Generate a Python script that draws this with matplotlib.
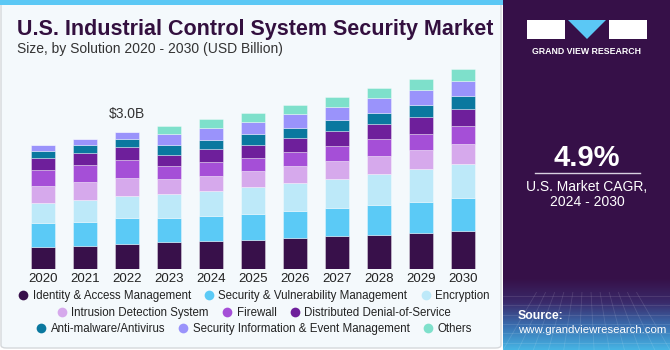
import numpy as np
import matplotlib
matplotlib.use('Agg')
import matplotlib.pyplot as plt
from matplotlib.patches import Rectangle, Polygon, FancyBboxPatch
from matplotlib.lines import Line2D

plt.rcParams['font.family'] = ['Liberation Sans', 'DejaVu Sans']

years = ['2020', '2021', '2022', '2023', '2024', '2025', '2026', '2027', '2028', '2029', '2030']
segments = ['Identity & Access Management', 'Security & Vulnerability Management', 'Encryption',
            'Intrusion Detection System', 'Firewall', 'Distributed Denial-of-Service',
            'Anti-malware/Antivirus', 'Security Information & Event Management', 'Others']
colors = ['#38104a', '#5bcaf6', '#bde9f9', '#d6a9ec', '#a54fd7', '#6e1f9b', '#0a789f', '#9a93fb', '#7ee0cb']

iam = [0.49, 0.51, 0.55, 0.59, 0.61, 0.64, 0.67, 0.72, 0.75, 0.79, 0.83]
svm = [0.51, 0.53, 0.56, 0.52, 0.55, 0.57, 0.60, 0.61, 0.66, 0.69, 0.72]
encryption = [0.45, 0.48, 0.50, 0.54, 0.56, 0.59, 0.62, 0.65, 0.68, 0.71, 0.75]
ids = [0.36, 0.38, 0.39, 0.32, 0.33, 0.34, 0.36, 0.39, 0.39, 0.42, 0.45]
firewall = [0.37, 0.37, 0.40, 0.28, 0.29, 0.30, 0.32, 0.32, 0.36, 0.36, 0.38]
ddos = [0.25, 0.28, 0.27, 0.26, 0.29, 0.29, 0.30, 0.33, 0.33, 0.36, 0.38]
antimalware = [0.16, 0.16, 0.18, 0.20, 0.20, 0.23, 0.23, 0.24, 0.26, 0.27, 0.28]
siem = [0.14, 0.15, 0.16, 0.24, 0.26, 0.27, 0.29, 0.30, 0.31, 0.32, 0.34]
others = [0.0, 0.0, 0.0, 0.19, 0.20, 0.20, 0.21, 0.21, 0.23, 0.25, 0.26]
series = [iam, svm, encryption, ids, firewall, ddos, antimalware, siem, others]

W, H = 670, 350


def px(x, y):
    # pixel position (from top-left) to figure fraction
    return x / W, 1 - y / H


fig = plt.figure(figsize=(6.7, 3.5), dpi=100)
fig.patch.set_facecolor('white')

# left panel and top strip
fig.patches.append(FancyBboxPatch((1 / W, 2 / H), 500 / W, 346 / H, boxstyle='round,pad=0,rounding_size=0.008',
                                  transform=fig.transFigure, facecolor='#f4f9fc', edgecolor='#d5d8db', lw=1,
                                  zorder=-10))
fig.patches.append(Rectangle((0, 1 - 5 / H), 503 / W, 5 / H, transform=fig.transFigure,
                             facecolor='#5bc8f5', edgecolor='none', zorder=-9))
# right panel
fig.patches.append(Rectangle((503 / W, 0), 167 / W, 1, transform=fig.transFigure,
                             facecolor='#361048', edgecolor='none', zorder=-10))

# gradient at the bottom of the right panel
gax = fig.add_axes([503 / W, 0, 167 / W, 72 / H])
grad = np.linspace(0, 1, 100)[:, None]
cmap = matplotlib.colors.LinearSegmentedColormap.from_list('g', ['#46b4e4', '#3a6fb0', '#3a2a6a', '#361048'])
gax.imshow(grad, aspect='auto', cmap=cmap, extent=[0, 1, 0, 1], origin='lower')
for i in range(12):
    gax.plot([i / 11, 0.5 + (i / 11 - 0.5) * 0.6], [0, 0.8], color='white', alpha=0.12, lw=0.6)
for j in range(6):
    gax.axhline(0.1 + j * 0.13, color='white', alpha=0.12, lw=0.6)
gax.set_xlim(0, 1)
gax.set_ylim(0, 1)
gax.axis('off')

# chart
ax = fig.add_axes([22 / W, 81 / H, 462 / W, 210 / H])
ax.set_facecolor('none')
x = np.arange(len(years))
bottom = np.zeros(len(years))
for vals, c in zip(series, colors):
    ax.bar(x, vals, 0.57, bottom=bottom, color=c, edgecolor=(1, 1, 1, 0.5), linewidth=0.5)
    bottom += np.array(vals)

ax.set_xlim(-0.5, len(years) - 0.5)
ax.set_ylim(0, 210 / 45.6)
ax.set_xticks(x)
ax.set_xticklabels(years, fontsize=9.5, color='#222222')
ax.tick_params(axis='x', length=0, pad=3)
ax.set_yticks([])
for s in ax.spines.values():
    s.set_visible(False)
ax.text(2, bottom[2] + 0.38, '$3.0B', ha='center', va='center', fontsize=10, color='#333333')

# titles
fig.text(*px(17, 30), 'U.S. Industrial Control System Security Market', fontsize=15.5, fontweight='bold',
         color='#33103f', va='center', ha='left')
fig.text(*px(17, 49), 'Size, by Solution 2020 - 2030 (USD Billion)', fontsize=10, color='#333333',
         va='center', ha='left')

# legend, three centered rows
handles = [Line2D([], [], marker='o', linestyle='none', markersize=7, markerfacecolor=c, markeredgecolor='none')
           for c in colors]
rows_y = [296, 313, 329]
for r in range(3):
    fig.legend(handles[r * 3:(r + 1) * 3], segments[r * 3:(r + 1) * 3], loc='center',
               bbox_to_anchor=px(253, rows_y[r]), ncol=3, frameon=False, fontsize=8.3,
               handletextpad=0.2, columnspacing=1.0, handlelength=1.2, borderpad=0, labelcolor='#222222')

# logo
fig.patches.append(Rectangle(px(527, 39), 38 / W, 19 / H, transform=fig.transFigure, facecolor='white'))
fig.patches.append(Rectangle(px(609, 39), 38 / W, 19 / H, transform=fig.transFigure, facecolor='white'))
fig.patches.append(Polygon([px(568, 20), px(606, 20), px(587, 39)], closed=True, transform=fig.transFigure,
                           facecolor='#5bc8f5'))
fig.text(*px(587, 51), 'GRAND VIEW RESEARCH', fontsize=6.3, fontweight='bold', color='white',
         ha='center', va='center')

# CAGR block
fig.text(*px(587, 158), '4.9%', fontsize=21, fontweight='bold', color='white', ha='center', va='center')
fig.add_artist(Line2D([535 / W, 640 / W], [1 - 173 / H, 1 - 173 / H], color='#d8d0e0', lw=1))
fig.text(*px(587, 187), 'U.S. Market CAGR,', fontsize=10, color='white', ha='center', va='center')
fig.text(*px(587, 202), '2024 - 2030', fontsize=10, color='white', ha='center', va='center')

fig.text(*px(518, 316), 'Source:', fontsize=8.8, fontweight='bold', color='white', ha='left', va='center')
fig.text(*px(518, 330), 'www.grandviewresearch.com', fontsize=8.2, color='white', ha='left', va='center')

fig.savefig('out.png', dpi=100)
